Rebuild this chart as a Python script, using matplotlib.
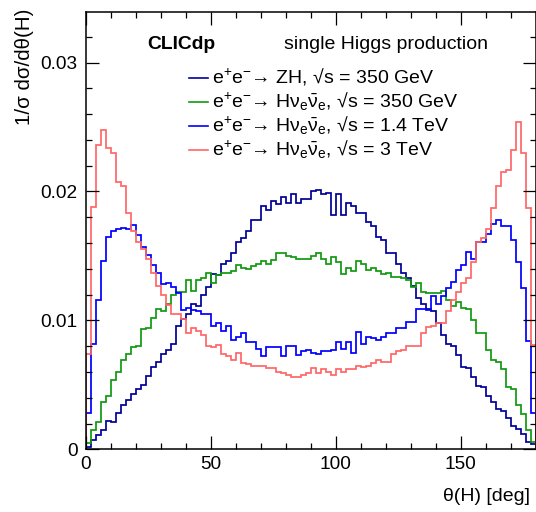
"""Angular distribution of the Higgs boson, single Higgs production at CLIC."""
import matplotlib

matplotlib.use("Agg")
import matplotlib.pyplot as plt
import numpy as np

# bin edges in theta(H) [deg], 2 degree bins
edges = np.arange(0, 182, 2)

zh_350 = [
    0.0002, 0.0007, 0.0011, 0.0015, 0.0022, 0.0021, 0.0028, 0.0034, 0.0038, 0.0043,
    0.0047, 0.0050, 0.0057, 0.0064, 0.0068, 0.0074, 0.0077, 0.0082, 0.0096, 0.0101,
    0.0105, 0.0113, 0.0111, 0.0120, 0.0126, 0.0136, 0.0135, 0.0144, 0.0146, 0.0152,
    0.0161, 0.0164, 0.0169, 0.0178, 0.0178, 0.0189, 0.0186, 0.0193, 0.0190, 0.0196,
    0.0191, 0.0198, 0.0191, 0.0194, 0.0194, 0.0200, 0.0201, 0.0198, 0.0199, 0.0182,
    0.0198, 0.0182, 0.0191, 0.0189, 0.0183, 0.0183, 0.0176, 0.0173, 0.0165, 0.0162,
    0.0152, 0.0152, 0.0144, 0.0137, 0.0133, 0.0127, 0.0117, 0.0113, 0.0109, 0.0107,
    0.0098, 0.0089, 0.0082, 0.0080, 0.0073, 0.0064, 0.0063, 0.0056, 0.0049, 0.0048,
    0.0041, 0.0037, 0.0031, 0.0030, 0.0024, 0.0018, 0.0016, 0.0012, 0.0006, 0.0004,
]
hnn_350 = [
    0.0005, 0.0015, 0.0021, 0.0037, 0.0041, 0.0054, 0.0060, 0.0069, 0.0074, 0.0079,
    0.0080, 0.0093, 0.0094, 0.0102, 0.0109, 0.0107, 0.0113, 0.0120, 0.0122, 0.0122,
    0.0131, 0.0123, 0.0131, 0.0133, 0.0137, 0.0129, 0.0135, 0.0137, 0.0137, 0.0138,
    0.0143, 0.0141, 0.0140, 0.0142, 0.0144, 0.0146, 0.0144, 0.0147, 0.0152, 0.0152,
    0.0150, 0.0149, 0.0148, 0.0148, 0.0148, 0.0150, 0.0152, 0.0148, 0.0144, 0.0149,
    0.0145, 0.0136, 0.0141, 0.0138, 0.0146, 0.0144, 0.0139, 0.0141, 0.0138, 0.0136,
    0.0137, 0.0134, 0.0134, 0.0133, 0.0131, 0.0126, 0.0129, 0.0122, 0.0121, 0.0121,
    0.0121, 0.0123, 0.0116, 0.0111, 0.0114, 0.0110, 0.0109, 0.0100, 0.0090, 0.0090,
    0.0077, 0.0069, 0.0068, 0.0062, 0.0048, 0.0047, 0.0034, 0.0027, 0.0015, 0.0006,
]
hnn_1400 = [
    0.0028, 0.0082, 0.0116, 0.0146, 0.0165, 0.0169, 0.0171, 0.0172, 0.0171, 0.0174,
    0.0166, 0.0157, 0.0151, 0.0143, 0.0137, 0.0128, 0.0129, 0.0126, 0.0121, 0.0108,
    0.0110, 0.0108, 0.0107, 0.0105, 0.0105, 0.0096, 0.0098, 0.0092, 0.0096, 0.0085,
    0.0087, 0.0090, 0.0083, 0.0083, 0.0078, 0.0072, 0.0079, 0.0079, 0.0079, 0.0072,
    0.0080, 0.0080, 0.0073, 0.0076, 0.0077, 0.0075, 0.0074, 0.0076, 0.0076, 0.0077,
    0.0083, 0.0078, 0.0083, 0.0075, 0.0091, 0.0082, 0.0087, 0.0086, 0.0085, 0.0087,
    0.0090, 0.0090, 0.0094, 0.0094, 0.0099, 0.0099, 0.0109, 0.0109, 0.0108, 0.0119,
    0.0113, 0.0119, 0.0125, 0.0130, 0.0139, 0.0143, 0.0153, 0.0148, 0.0161, 0.0161,
    0.0167, 0.0175, 0.0178, 0.0173, 0.0173, 0.0162, 0.0145, 0.0125, 0.0084, 0.0028,
]
hnn_3000 = [
    0.0074, 0.0188, 0.0236, 0.0248, 0.0234, 0.0230, 0.0207, 0.0204, 0.0183, 0.0169,
    0.0161, 0.0155, 0.0148, 0.0137, 0.0127, 0.0120, 0.0112, 0.0105, 0.0105, 0.0101,
    0.0090, 0.0094, 0.0092, 0.0089, 0.0080, 0.0079, 0.0081, 0.0074, 0.0072, 0.0069,
    0.0075, 0.0067, 0.0066, 0.0065, 0.0065, 0.0065, 0.0063, 0.0063, 0.0060, 0.0059,
    0.0058, 0.0056, 0.0056, 0.0058, 0.0059, 0.0063, 0.0059, 0.0062, 0.0060, 0.0058,
    0.0062, 0.0060, 0.0062, 0.0062, 0.0065, 0.0064, 0.0065, 0.0067, 0.0069, 0.0068,
    0.0068, 0.0074, 0.0076, 0.0077, 0.0080, 0.0080, 0.0080, 0.0090, 0.0095, 0.0096,
    0.0098, 0.0098, 0.0107, 0.0116, 0.0122, 0.0129, 0.0133, 0.0145, 0.0161, 0.0164,
    0.0171, 0.0187, 0.0204, 0.0215, 0.0217, 0.0232, 0.0254, 0.0230, 0.0187, 0.0081,
]

labels = [
    r"e$^{+}$e$^{-}$→ ZH, √s = 350 GeV",
    r"e$^{+}$e$^{-}$→ H$\nu_{e}\bar{\nu}_{e}$, √s = 350 GeV",
    r"e$^{+}$e$^{-}$→ H$\nu_{e}\bar{\nu}_{e}$, √s = 1.4 TeV",
    r"e$^{+}$e$^{-}$→ H$\nu_{e}\bar{\nu}_{e}$, √s = 3 TeV",
]
colors = ["#000099", "#119911", "#0000ff", "#ff6666"]

plt.rcParams["font.family"] = ["Liberation Sans", "DejaVu Sans"]
plt.rcParams["mathtext.fontset"] = "custom"
plt.rcParams["mathtext.rm"] = "Liberation Sans"
plt.rcParams["mathtext.it"] = "Liberation Sans"
plt.rcParams["mathtext.bf"] = "Liberation Sans:bold"

W, H = 536, 512
fig = plt.figure(figsize=(W / 100, H / 100), dpi=100)
ax = fig.add_axes([86 / W, 1 - 449.3 / H, 449.5 / W, 437 / H])

for vals, col in zip([zh_350, hnn_350, hnn_1400, hnn_3000], colors):
    ax.stairs(vals, edges, baseline=0, color=col, lw=1.25)

ax.set_xlim(0, 180)
ax.set_ylim(0, 0.0339)
ax.set_xticks([0, 50, 100, 150])
ax.set_xticks(np.arange(0, 181, 10), minor=True)
ax.set_yticks([0, 0.01, 0.02, 0.03])
ax.set_yticklabels(["0", "0.01", "0.02", "0.03"])
ax.set_yticks(np.arange(0, 0.034, 0.002), minor=True)
ax.tick_params(which="both", direction="in", top=True, right=True, labelsize=13.7, width=0.9)
ax.tick_params(which="major", length=9.5)
ax.tick_params(which="minor", length=4.5)
ax.tick_params(axis="x", pad=4.5)
ax.tick_params(axis="y", pad=6)
for sp in ax.spines.values():
    sp.set_linewidth(1.1)


# text and legend, placed in pixel units of the 536x512 canvas
def fx(px):
    return px / W


def fy(py):
    return 1 - py / H


fig.text(fx(147), fy(49.3), "CLICdp", fontsize=13.9, fontweight="bold")
fig.text(fx(284), fy(49.3), "single Higgs production", fontsize=14.0)

for i, (lab, col) in enumerate(zip(labels, colors)):
    base = 82.5 + i * 24.2
    fig.add_artist(plt.Line2D([fx(189), fx(208)], [fy(base - 5)] * 2, color=col, lw=1.2))
    fig.text(fx(212), fy(base), lab, fontsize=14.0, va="baseline")

fig.text(fx(30.5), fy(9), "1/σ dσ/dθ(H)", fontsize=14.8, rotation=90,
         rotation_mode="anchor", ha="right", va="baseline")
fig.text(fx(530), fy(501), "θ(H) [deg]", fontsize=14.0, ha="right", va="baseline")

fig.savefig("out.png", dpi=100)
